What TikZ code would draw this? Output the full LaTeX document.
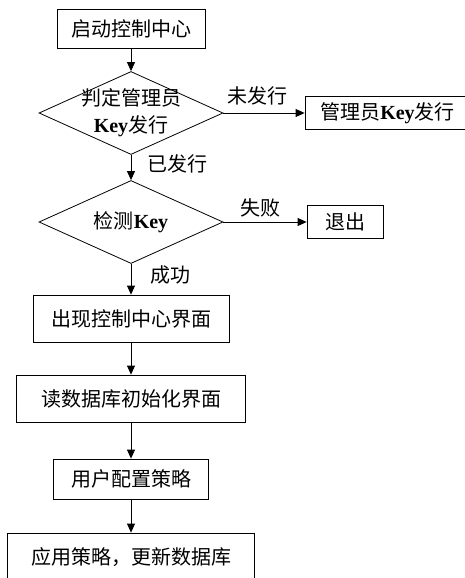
\documentclass[tikz,border=0pt]{standalone}
\usepackage{fontspec}
\setmainfont{Liberation Serif}
\newfontfamily\cjk{Noto Sans CJK SC}
\usetikzlibrary{shapes.geometric, arrows.meta}
\newcommand{\Key}{{\rmfamily\bfseries Key}}
\tikzset{
    box/.style={draw, rectangle, minimum height=47pt, align=center, inner sep=0pt, font=\cjk\fontsize{20}{27}\selectfont},
    decision/.style={draw, diamond, minimum width=184pt, minimum height=83pt, inner sep=0pt},
    tag/.style={inner sep=2pt, align=center, font=\cjk\fontsize{20}{27}\selectfont},
    arr/.style={-{Triangle[length=9pt, width=8pt]}}
}
\begin{document}
\begin{tikzpicture}[x=1pt, y=-1pt, line width=0.8pt]
    \useasboundingbox (0,0) rectangle (465,578);

    \node[box, minimum width=148pt, minimum height=39pt] (start) at (131,28.5) {启动控制中心};
    \node[decision, label={[tag]center:{判定管理员\\\Key 发行}}] (judge) at (131,113) {};
    \node[box, minimum width=165pt, minimum height=33pt] (issue) at (387.5,113) {管理员\Key 发行};
    \node[decision, label={[tag]center:{检测\Key}}] (check) at (131,222) {};
    \node[box, minimum width=76pt, minimum height=33pt] (quit) at (345,222) {退出};
    \node[box, minimum width=196pt] (show) at (131,318.5) {出现控制中心界面};
    \node[box, minimum width=229pt] (load) at (131,398.5) {读数据库初始化界面};
    \node[box, minimum width=155pt, minimum height=40pt] (config) at (131,479) {用户配置策略};
    \node[box, minimum width=247pt, minimum height=48pt] (apply) at (131,557) {应用策略，更新数据库};

    \draw[arr] (start) -- (judge);
    \draw[arr] (judge) -- node[tag, above, yshift=5pt, pos=0.42] {未发行} (issue);
    \draw[arr] (judge) -- node[tag, right, xshift=14pt, pos=0.35] {已发行} (check);
    \draw[arr] (check) -- node[tag, above, yshift=2pt, pos=0.45] {失败} (quit);
    \draw[arr] (check) -- node[tag, right, xshift=17pt, pos=0.375] {成功} (show);
    \draw[arr] (show) -- (load);
    \draw[arr] (load) -- (config);
    \draw[arr] (config) -- (apply);
\end{tikzpicture}
\end{document}
